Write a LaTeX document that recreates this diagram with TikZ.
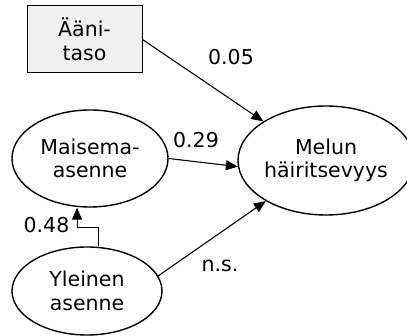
\documentclass[tikz,border=0pt]{standalone}
\usepackage{fontspec}
\setmainfont{DejaVu Sans}
\usetikzlibrary{shapes.geometric,arrows.meta}
\definecolor{boxfill}{HTML}{F0F0F0}
\begin{document}
\begin{tikzpicture}[x=1pt,y=-1pt,
  every node/.style={font=\fontsize{20.5pt}{23.5pt}\selectfont, inner sep=0pt},
  latent/.style={draw, ellipse, line width=1.4pt, align=center},
  observed/.style={draw, rectangle, line width=1pt, fill=boxfill, align=center},
  arr/.style={line width=1.1pt, -{Triangle[length=12pt,width=10pt]}},
  lbl/.style={}]
\useasboundingbox (0,0) rectangle (407,336);
\node[observed, minimum width=115pt, minimum height=67pt] (aani) at (84.5,39.5) {Ääni-\\taso};
\node[latent, minimum width=156pt, minimum height=97pt] (maisema) at (90,158.5) {Maisema-\\asenne};
\node[latent, minimum width=176pt, minimum height=109pt] (melun) at (326,160.5) {Melun\\häiritsevyys};
\node[latent, minimum width=150pt, minimum height=88pt] (yleinen) at (87,291) {Yleinen\\asenne};
\coordinate (e1) at (98,227);
\coordinate (e2) at (77,227);
\draw[arr] (aani.east) -- (melun.148);
\draw[arr] (maisema.east) -- (melun.184);
\draw[arr, line width=0.9pt] (yleinen.north -| e1) -- (e1) -- (e2) -- (maisema.south -| e2);
\draw[arr] (yleinen.12) -- (melun.214);
\node[lbl] (l1) at (231,57.5) {0.05};
\node[lbl] (l2) at (196,140) {0.29};
\node[lbl] (l3) at (46.5,225) {0.48};
\node[lbl] (l4) at (220,265.5) {n.s.};
\end{tikzpicture}
\end{document}
